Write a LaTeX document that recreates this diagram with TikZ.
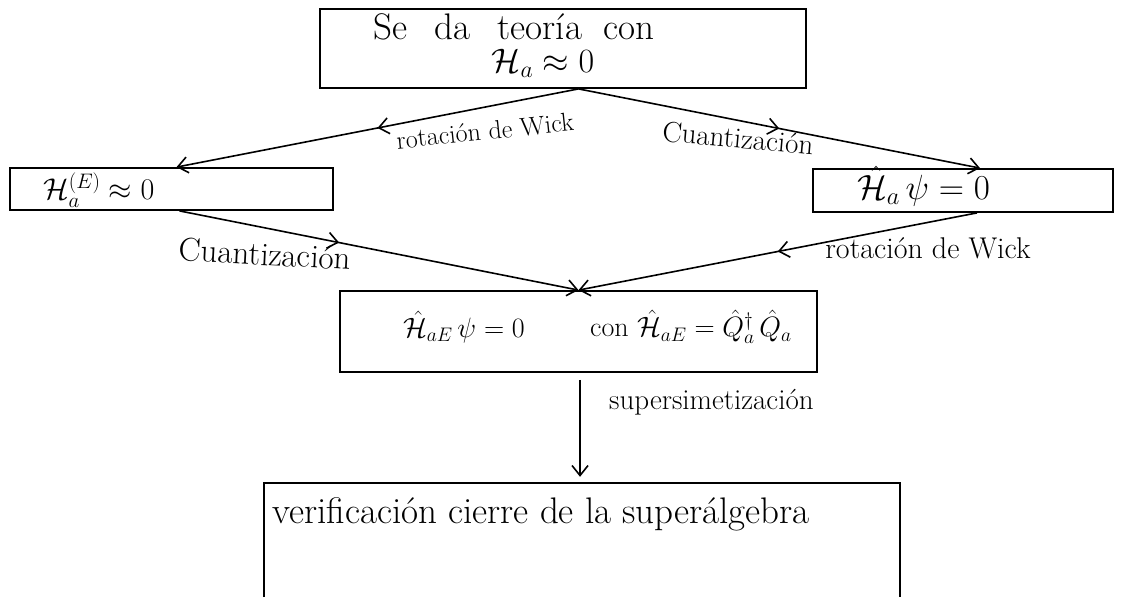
\RequirePackage{fix-cm}
\documentclass[tikz,border=0pt]{standalone}
\usepackage{amsmath}
\usepackage{fontspec}
\usetikzlibrary{arrows.meta,decorations.markings}
\newcommand\fsz[1]{\fontsize{#1}{#1}\selectfont}
\tikzset{
  box/.style={draw,line width=1.8pt,inner sep=0pt},
  txt/.style={inner sep=0pt},
  ln/.style={line width=1.6pt},
  tip/.style={-{Straight Barb[length=10pt,width=16pt,line width=1.6pt]}},
  midarrow/.style={postaction={decorate},decoration={markings,
     mark=at position #1 with {\arrow{Straight Barb[length=10pt,width=16pt,line width=1.6pt]}}}}
}
\begin{document}
\begin{tikzpicture}[x=1pt,y=-1pt]
\useasboundingbox (0,0) rectangle (1123,597);
% boxes
\node[box,minimum width=486pt,minimum height=79pt] (top) at (563,48.5) {};
\node[box,minimum width=323pt,minimum height=42pt] (left) at (171.5,189) {};
\node[box,minimum width=300pt,minimum height=43pt] (right) at (963,190.5) {};
\node[box,minimum width=477pt,minimum height=81pt] (mid) at (578.5,331.5) {};
\node[inner sep=0pt,minimum width=636pt,minimum height=114pt] (bot) at (582,540) {};
\draw[line width=1.8pt] (bot.south west) |- (bot.north east) -- (bot.south east);
% box texts
\node[txt,font=\fsz{37}] (t1) at (514,27) {Se\hspace{16pt} da\hspace{16pt} teoría\hspace{10pt} con};
\node[txt,font=\fsz{34}] (t2) at (543,63) {$\mathcal{H}_a \approx 0$};
\node[txt,font=\fsz{30},anchor=west] (tl) at (43,190) {$\mathcal{H}^{(E)}_a \approx 0$};
\node[txt,font=\fsz{35},anchor=west] (tr) at (857,186) {$\hat{\mathcal{H}}_a\,\psi = 0$};
\node[txt,font=\fsz{28},anchor=west] (tm1) at (403,327) {$\hat{\mathcal{H}}_{aE}\,\psi = 0$};
\node[txt,font=\fsz{28},anchor=west] (tm2) at (590,327) {con $\hat{\mathcal{H}}_{aE} = \hat{Q}^{\dagger}_a\,\hat{Q}_a$};
\node[txt,font=\fsz{37},anchor=west] (tb) at (272,514) {verificación cierre de la superálgebra};
% connectors
\coordinate (apex) at (top.south -| mid.north);
\coordinate (lin) at ([xshift=5pt]left.north);
\coordinate (rin) at ([xshift=17pt]right.north);
\coordinate (lout) at ([xshift=8pt]left.south);
\coordinate (rout) at ([xshift=14pt]right.south);
\draw[ln,tip,midarrow=0.5] (apex) -- (lin);
\draw[ln,tip,midarrow=0.5] (apex) -- (rin);
\draw[ln,tip,midarrow=0.4] (lout) -- (mid.north);
\draw[ln,tip,midarrow=0.5] (rout) -- (mid.north);
\coordinate (vs) at ([xshift=1.5pt,yshift=-7pt]mid.south);
\coordinate (ve) at ([yshift=6pt]vs |- bot.north);
\draw[ln,tip] (vs) -- (ve);
% connector labels
\node[txt,font=\fsz{26},rotate=6] (l1) at (485,131) {rotación de Wick};
\node[txt,font=\fsz{29},rotate=-5] (l2) at (738,138) {Cuantización};
\node[txt,font=\fsz{33},rotate=-3] (l3) at (265,254) {Cuantización};
\node[txt,font=\fsz{30}] (l4) at (928,248) {rotación de Wick};
\node[txt,font=\fsz{29},anchor=west] (l5) at (609,402) {supersimetización};
\end{tikzpicture}
\end{document}
